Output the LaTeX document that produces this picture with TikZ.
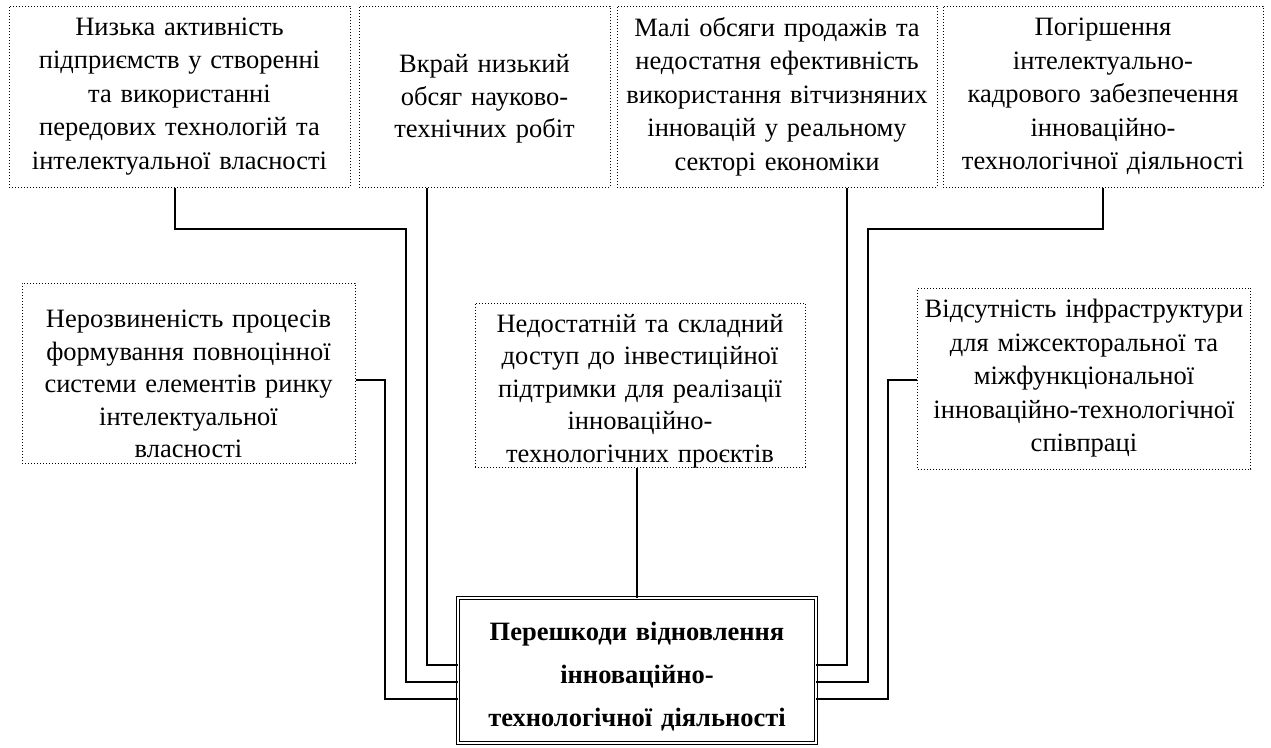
\documentclass[tikz,border=0pt]{standalone}
\usepackage{fontspec}
\setmainfont{Liberation Serif}
\begin{document}
\begin{tikzpicture}[x=1pt,y=-1pt,
  cause/.style={draw, line width=1pt, dash pattern=on 1pt off 2pt, inner sep=0pt,
    align=center, font=\fontsize{26.5}{33.5}\selectfont},
  causetext/.style={inner sep=0pt, align=center, font=\fontsize{26.5}{32.5}\selectfont},
  link/.style={line width=1.4pt},
  core/.style={draw, double, line width=0.9pt, double distance=1.8pt, inner sep=0pt},
  coretext/.style={align=center, inner sep=0pt, font=\fontsize{26.5}{43}\selectfont\bfseries}]
\useasboundingbox (0,0) rectangle (1271,747);
% top row
\node[cause, minimum width=341pt, minimum height=181pt, text width=339pt] (b1) at (179.5,96.5)
  {Низька активність\\підприємств у створенні\\та використанні\\передових технологій та\\інтелектуальної власності};
\node[cause, minimum width=251pt, minimum height=181pt] (b2) at (484.5,96.5) {};
\node[causetext, text width=249pt] (b2t) at (484.5,99)
  {Вкрай низький\\обсяг науково-\\технічних робіт};
\node[cause, minimum width=320pt, minimum height=181pt, text width=318pt] (b3) at (777,96.5)
  {Малі обсяги продажів та\\недостатня ефективність\\використання вітчизняних\\інновацій у реальному\\секторі економіки};
\node[cause, minimum width=320pt, minimum height=181pt, text width=318pt] (b4) at (1103,96.5)
  {Погіршення\\інтелектуально-\\кадрового забезпечення\\інноваційно-\\технологічної діяльності};
% middle row
\node[cause, minimum width=333pt, minimum height=180pt] (lm) at (188.5,373) {};
\node[causetext, text width=331pt] (lmt) at (188.5,384)
  {Нерозвиненість процесів\\формування повноцінної\\системи елементів ринку\\інтелектуальної\\власності};
\node[cause, minimum width=330pt, minimum height=164pt] (mm) at (640,385) {};
\node[causetext, text width=328pt] (mmt) at (640,391)
  {Недостатній та складний\\доступ до інвестиційної\\підтримки для реалізації\\інноваційно-\\технологічних проєктів};
\node[cause, minimum width=333pt, minimum height=181pt, text width=331pt] (rm) at (1084,378.5)
  {Відсутність інфраструктури\\для міжсекторальної та\\міжфункціональної\\інноваційно-технологічної\\співпраці};
% central
\node[core, minimum width=358pt, minimum height=145pt] (c) at (637,670.5) {};
\node[coretext, text width=350pt] (ct) at (637,677) {Перешкоди відновлення\\інноваційно-\\технологічної діяльності};
% connectors left
\draw[link] (b1.south -| 175,0) -- (175,229) -- (406,229) -- (406,682) -- (c.west |- 0,682);
\draw[link] (b2.south -| 427,0) -- (427,665) -- (c.west |- 0,665);
\draw[link] (lm.east |- 0,380) -- (385,380) -- (385,699) -- (c.west |- 0,699);
% connectors right
\draw[link] (b3.south -| 847,0) -- (847,665) -- (c.east |- 0,665);
\draw[link] (b4.south) -- (1103,229) -- (868,229) -- (868,682) -- (c.east |- 0,682);
\draw[link] (rm.west |- 0,380) -- (888,380) -- (888,699) -- (c.east |- 0,699);
% middle
\draw[link] (mm.south -| 637,0) -- (c.north -| 637,0);
\end{tikzpicture}
\end{document}
